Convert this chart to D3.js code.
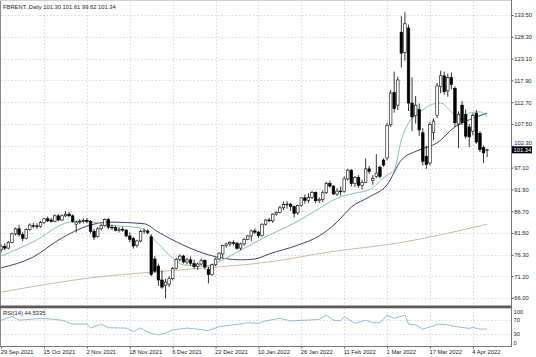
<!DOCTYPE html>
<html><head><meta charset="utf-8">
<script src="https://cdn.jsdelivr.net/npm/d3@7"></script>
<style>
body{margin:0;background:#fff}
svg{display:block}
text{font-family:"Liberation Sans",Arial,sans-serif;font-size:5.8px;fill:#222}
</style>
</head><body>
<svg id="chart" width="536" height="357"></svg>
<script>
// ---------- DATA ----------
const symbolTitle = "FBRENT.,Daily";
const headerValues = ["101.30", "101.61", "99.62", "101.34"];
const lastPrice = 101.34;
const rsiTitle = "RSI(14) 44.5335";

const openPrices = [77.5,78.3,77.9,79.3,81.3,82.5,81.1,80.2,82.3,83.3,83.2,83.1,84.0,84.9,84.6,84.3,85.6,84.6,85.6,86.0,85.6,83.6,84.1,84.3,84.5,84.3,81.9,80.7,82.5,83.3,84.7,82.9,82.8,82.1,82.4,82.2,80.8,80.2,78.6,79.6,81.9,82.0,80.6,75.3,73.6,70.3,69.0,69.3,70.6,73.0,75.2,76.0,74.6,75.1,74.2,73.5,74.1,75.0,72.8,71.6,73.9,75.3,76.5,78.5,78.9,79.2,79.1,77.9,78.9,80.0,80.8,82.0,81.7,80.9,83.6,84.6,84.4,86.0,86.4,87.5,88.3,88.4,87.8,86.3,88.1,89.9,89.3,90.0,91.2,89.2,89.5,91.1,93.3,92.7,90.8,91.5,91.4,94.4,96.5,93.3,94.8,92.9,93.6,96.8,94.0,95.0,97.2,98.9,99.4,107.3,115.0,112.0,129.4,124.6,130.4,112.5,109.5,111.0,105.4,99.8,98.2,105.5,109.6,116.4,119.0,115.4,118.6,116.0,107.5,112.0,109.8,106.8,105.8,110.0,105.3,101.9,101.30];
const highPrices = [78.8,79.0,79.6,81.6,82.8,83.4,81.7,82.6,83.8,84.0,83.8,84.4,85.0,85.4,85.1,85.9,86.0,85.9,86.7,86.5,85.9,84.4,84.8,85.0,85.1,84.6,82.5,82.9,83.6,85.0,85.1,83.5,83.2,82.9,83.0,82.4,81.6,80.6,79.9,82.3,82.6,82.4,81.2,76.0,74.2,72.6,70.6,71.2,73.4,75.6,76.4,76.3,75.6,75.9,75.2,74.5,75.4,75.2,73.5,74.2,75.6,76.9,78.7,79.2,79.6,79.8,79.3,79.2,80.3,81.0,82.3,82.6,82.0,83.8,84.8,85.1,86.2,86.7,88.0,89.0,89.1,88.7,88.0,88.3,90.0,90.7,91.0,91.6,91.4,90.0,91.7,93.7,94.0,92.9,92.2,92.6,95.0,96.8,96.7,95.1,95.3,94.2,99.3,97.5,95.3,100.3,97.6,99.3,107.8,115.6,120.0,118.8,133.2,134.2,131.2,118.6,114.2,112.4,106.5,102.3,108.0,108.8,117.3,120.2,120.0,119.5,119.8,116.5,110.5,113.0,111.0,107.5,110.0,110.8,105.8,102.4,101.61];
const lowPrices = [76.9,77.4,77.6,79.1,80.9,80.6,79.5,80.0,82.0,82.6,82.4,82.8,83.6,84.1,84.0,84.1,84.3,84.4,85.3,85.3,83.9,81.6,83.6,83.8,83.8,81.4,79.8,80.4,82.1,83.0,82.4,82.2,81.9,81.6,81.8,80.5,79.3,77.8,78.0,79.3,81.3,81.2,71.2,72.0,68.9,68.2,65.9,68.6,70.2,72.8,74.7,74.2,74.0,73.8,73.0,72.7,73.8,72.8,69.5,71.3,73.6,75.0,75.6,78.0,78.3,78.5,77.6,77.4,78.5,79.8,79.6,81.2,80.3,80.6,83.3,84.1,83.9,85.6,86.2,86.9,87.3,86.8,85.2,85.8,87.8,88.5,88.7,89.6,88.6,88.6,88.9,90.8,92.3,90.6,90.3,90.4,91.1,94.0,92.6,92.5,92.3,91.9,93.4,95.6,93.0,94.6,94.5,97.3,98.8,106.8,110.2,110.8,121.0,122.6,110.6,105.8,107.6,104.6,97.6,96.8,97.6,103.6,108.9,114.8,114.5,114.0,115.8,106.8,101.8,107.3,104.0,102.0,104.8,102.8,100.8,98.2,99.62];
const closePrices = [78.3,77.9,79.3,81.3,82.5,81.1,80.2,82.3,83.4,83.2,83.1,84.0,84.9,84.4,84.3,85.6,84.6,85.6,86.0,85.6,84.2,84.1,84.3,84.5,84.3,81.9,80.5,82.5,83.3,84.7,82.9,82.8,82.1,82.4,82.2,80.8,80.0,78.4,79.6,81.9,82.0,81.6,71.6,72.4,70.3,68.6,69.8,70.6,73.0,75.2,76.0,74.6,75.1,74.3,73.5,74.1,75.0,73.4,71.6,73.9,75.3,76.7,78.5,78.9,79.2,79.1,77.8,78.9,80.0,80.8,82.0,81.7,80.9,83.6,84.6,84.4,86.0,86.4,87.5,88.3,88.4,87.8,86.2,88.1,89.9,89.3,90.0,91.2,89.2,89.5,91.1,93.3,92.7,90.8,91.5,91.4,94.4,96.5,93.3,94.8,92.8,93.6,96.8,96.2,94.5,95.8,95.0,97.7,107.2,114.9,111.2,118.0,124.4,131.4,112.5,109.2,112.0,106.1,98.6,97.8,107.4,108.2,116.6,119.0,115.2,118.6,116.9,107.8,109.8,107.9,104.6,104.4,109.5,103.2,101.4,100.6,101.34];

const priceTickLabels = ["66.00","71.20","76.30","81.50","86.70","91.90","97.10","102.30","107.50","112.70","117.90","123.10","128.30","133.50"];
const dateLabels = ["29 Sep 2021","15 Oct 2021","2 Nov 2021","18 Nov 2021","6 Dec 2021","22 Dec 2021","10 Jan 2022","26 Jan 2022","11 Feb 2022","1 Mar 2022","17 Mar 2022","4 Apr 2022"];
const dateLabelBars = [0,12,24,36,48,60,72,84,96,108,120,132];

// moving averages (bar index, value)
const maFastBars = [0,9,19,23,30,39,43,48,51,57,62,67,75,81,87,94,99,103,108,110,112,114,117,120,123,126,129,131,134,136];
const maFastValues = [76.0,79.4,84.1,84.4,83.4,82.7,79.8,75.5,73.9,73.6,75.1,77.4,81.0,83.4,86.3,89.8,91.0,91.8,95.3,96.5,103.7,107.7,110.1,112.0,112.5,110.4,108.5,110.1,110.4,109.2];
const maSlowBars = [0,9,16,25,30,40,44,51,58,67,71,75,83,89,94,98,103,108,112,117,122,127,131,136];
const maSlowValues = [73.2,75.8,79.8,83.4,84.1,83.7,81.7,78.6,76.3,75.1,75.3,76.5,78.6,80.8,84.1,87.7,90.1,93.0,98.9,101.3,103.0,106.8,108.5,110.1];
const maLongBars = [0,25,50,75,92,111,136];
const maLongValues = [67.4,70.8,72.7,74.6,77.0,79.1,83.6];

const rsiBars = [0,3,5,9,11,14,17,20,24,25,28,30,35,37,39,42,44,46,48,52,55,58,61,65,69,72,74,78,81,85,89,91,93,95,96,99,102,104,106,108,110,113,114,116,118,121,122,125,127,129,131,132,134,136];
const rsiValues = [69,79,69,72,74,72,69,58,58,47,58,48,47,37,47,32,28,33,42,47,44,40,51,56,62,60,67,74,67,69,71,83,69,67,79,60,69,62,62,83,74,83,58,56,44,53,58,56,51,49,46,49,44,44.5];
const rsiLevels = [70,30];
const rsiTickLabels = ["100","70","30","0"];
const rsiTickValues = [100,70,30,0];

// ---------- DRAW ----------
const plotRight = 511;
const mainBottom = 305.5;
const rsiTop = 308.5, rsiBottom = 346.5;

const svg = d3.select("#chart");
const x = d3.scaleLinear().domain([0, 136]).range([1.2, 487.1]);
const y = d3.scaleLinear().domain([66, 133.5]).range([298, 15]);
const yR = d3.scaleLinear().domain([0, 100]).range([345, 309]);

const priceTicks = priceTickLabels.map(Number);
const bars = d3.range(closePrices.length).map(i => ({
  i, o: openPrices[i], h: highPrices[i], l: lowPrices[i], c: closePrices[i]
}));

svg.append("defs").append("clipPath").attr("id", "mainClip")
  .append("rect").attr("x", 1).attr("y", 1).attr("width", plotRight - 1).attr("height", mainBottom - 1);

// grid - main
const grid = svg.append("g").attr("stroke", "#c9c9c9").attr("stroke-width", 0.7).attr("stroke-dasharray", "1.5,2");
grid.selectAll(".hg").data(priceTicks).join("line")
  .attr("x1", 1).attr("x2", plotRight).attr("y1", d => Math.round(y(d)) + 0.5).attr("y2", d => Math.round(y(d)) + 0.5);
grid.selectAll(".vg").data(dateLabelBars.slice(1)).join("line")
  .attr("x1", d => Math.round(x(d)) + 0.5).attr("x2", d => Math.round(x(d)) + 0.5)
  .attr("y1", 1).attr("y2", mainBottom);
// grid - rsi
grid.selectAll(".vgr").data(dateLabelBars.slice(1)).join("line")
  .attr("x1", d => Math.round(x(d)) + 0.5).attr("x2", d => Math.round(x(d)) + 0.5)
  .attr("y1", rsiTop).attr("y2", rsiBottom);
grid.selectAll(".rl").data(rsiLevels).join("line")
  .attr("x1", 1).attr("x2", plotRight).attr("y1", d => Math.round(yR(d)) + 0.5).attr("y2", d => Math.round(yR(d)) + 0.5);

const main = svg.append("g").attr("clip-path", "url(#mainClip)");

// moving averages
const line = d3.line().x(d => x(d[0])).y(d => y(d[1])).curve(d3.curveMonotoneX);
main.append("path").datum(maLongBars.map((b, k) => [b, maLongValues[k]]))
  .attr("d", line).attr("fill", "none").attr("stroke", "#cbbb9c").attr("stroke-width", 1);
main.append("path").datum(maSlowBars.map((b, k) => [b, maSlowValues[k]]))
  .attr("d", line).attr("fill", "none").attr("stroke", "#3e3f6e").attr("stroke-width", 1);
main.append("path").datum(maFastBars.map((b, k) => [b, maFastValues[k]]))
  .attr("d", line).attr("fill", "none").attr("stroke", "#86bdb6").attr("stroke-width", 1);

// candles
const cg = main.append("g");
cg.selectAll(".wick").data(bars).join("line")
  .attr("x1", d => x(d.i)).attr("x2", d => x(d.i))
  .attr("y1", d => y(d.h)).attr("y2", d => y(d.l))
  .attr("stroke", "#000").attr("stroke-width", 0.8);
cg.selectAll(".body").data(bars).join("rect")
  .attr("x", d => x(d.i) - 1.3).attr("width", 2.6)
  .attr("y", d => y(Math.max(d.o, d.c)))
  .attr("height", d => Math.max(0.7, Math.abs(y(d.o) - y(d.c))))
  .attr("fill", d => d.c >= d.o ? "#fff" : "#000")
  .attr("stroke", "#000").attr("stroke-width", 0.6);

// frame lines
svg.append("line").attr("x1", 0.5).attr("x2", 0.5).attr("y1", 0).attr("y2", rsiBottom).attr("stroke", "#8a8a8a");
svg.append("line").attr("x1", 0).attr("x2", plotRight).attr("y1", 0.5).attr("y2", 0.5).attr("stroke", "#d0d0d0");
svg.append("rect").attr("x", 0).attr("y", mainBottom).attr("width", plotRight + 1).attr("height", 2.8).attr("fill", "#5a5a5a");

// right price axis
const lp = y(lastPrice);
const yAxis = d3.axisRight(y).tickValues(priceTicks).tickFormat((d, k) => priceTickLabels[k]).tickSize(2).tickPadding(0.8).tickSizeOuter(0);
const ya = svg.append("g").attr("transform", `translate(${plotRight + 0.5},0)`).call(yAxis);
ya.select(".domain").remove();
ya.selectAll("line").attr("stroke", "#555");
ya.selectAll("text").style("font-size", "5.8px").attr("fill", "#222")
  .attr("y", d => Math.abs(y(d) - lp) < 7 ? -(7 - (lp - y(d))) + 0.0 : 0);
svg.append("line").attr("x1", plotRight + 0.5).attr("x2", plotRight + 0.5).attr("y1", 0).attr("y2", rsiBottom).attr("stroke", "#777");

// current price tag
svg.append("rect").attr("x", plotRight + 1).attr("y", lp - 3.5).attr("width", 20).attr("height", 7).attr("fill", "#000");
svg.append("text").attr("x", plotRight + 2.5).attr("y", lp).attr("dy", "0.35em").style("fill", "#fff").text(lastPrice.toFixed(2));

// RSI line
const rline = d3.line().x(d => x(d[0])).y(d => yR(d[1]));
svg.append("path").datum(rsiBars.map((b, k) => [b, rsiValues[k]]))
  .attr("d", rline).attr("fill", "none").attr("stroke", "#86b6d2").attr("stroke-width", 0.9);

// RSI right labels
svg.selectAll(".rt").data(rsiTickValues).join("text")
  .attr("x", plotRight + 2.5)
  .attr("y", (d, k) => [312, 320.2, 334, 342.6][k])
  .attr("dy", "0.35em").text((d, k) => rsiTickLabels[k]);

// bottom date axis
const xAxis = d3.axisBottom(x).tickValues(dateLabelBars).tickFormat((d, k) => dateLabels[k]).tickSize(2).tickPadding(1).tickSizeOuter(0);
const xa = svg.append("g").attr("transform", `translate(0,${rsiBottom})`).call(xAxis);
xa.select(".domain").remove();
xa.selectAll("line").attr("stroke", "#555");
xa.selectAll("text").attr("text-anchor", "start").attr("x", -1).style("font-size", "5.8px").attr("fill", "#222");
svg.append("line").attr("x1", 0).attr("x2", plotRight + 1).attr("y1", rsiBottom).attr("y2", rsiBottom).attr("stroke", "#777");

// titles
svg.append("text").attr("x", 3).attr("y", 8.5).attr("fill", "#222")
  .text(symbolTitle + "  " + headerValues.join(" "));
svg.append("text").attr("x", 3).attr("y", 315).attr("fill", "#222").text(rsiTitle);
</script>
</body></html>
